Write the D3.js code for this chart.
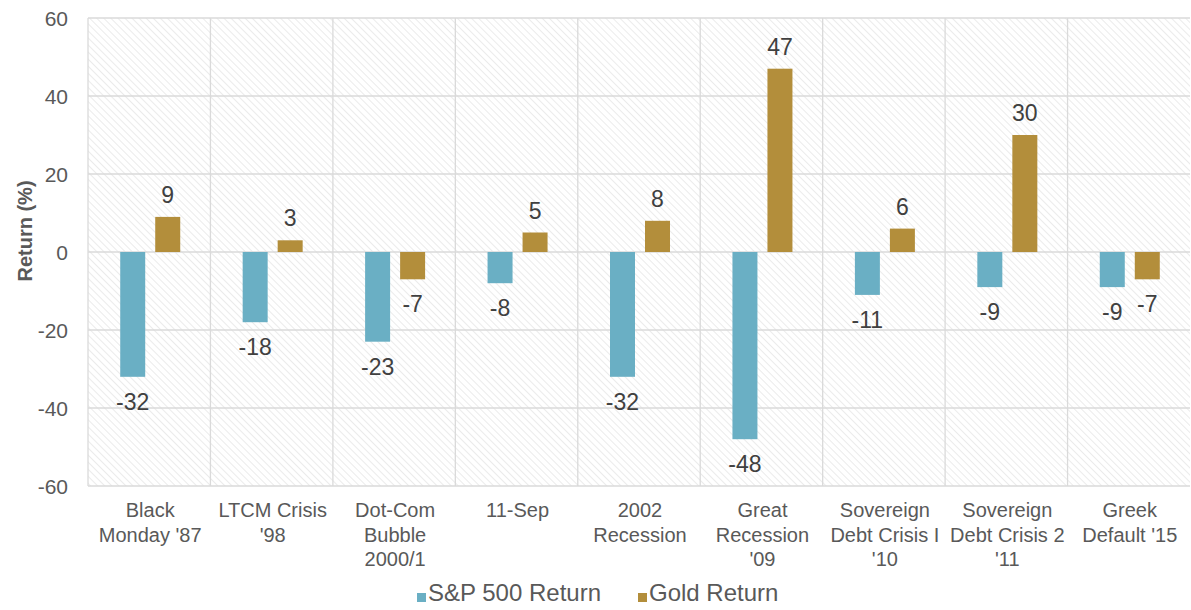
<!DOCTYPE html>
<html>
<head>
<meta charset="utf-8">
<script src="https://cdn.jsdelivr.net/npm/d3@7"></script>
<style>
  body { margin: 0; background: #fff; }
  text { font-family: "Liberation Sans", Arial, sans-serif; }
</style>
</head>
<body>
<svg width="1191" height="610"></svg>
<script>
// data
const categories = ["Black Monday '87", "LTCM Crisis '98", "Dot-Com Bubble 2000/1", "11-Sep",
  "2002 Recession", "Great Recession '09", "Sovereign Debt Crisis I '10",
  "Sovereign Debt Crisis 2 '11", "Greek Default '15"];
// how each tick label wraps
const tickLines = [["Black", "Monday '87"], ["LTCM Crisis", "'98"], ["Dot-Com", "Bubble", "2000/1"],
  ["11-Sep"], ["2002", "Recession"], ["Great", "Recession", "'09"],
  ["Sovereign", "Debt Crisis I", "'10"], ["Sovereign", "Debt Crisis 2", "'11"], ["Greek", "Default '15"]];
const spReturn = [-32, -18, -23, -8, -32, -48, -11, -9, -9];
const goldReturn = [9, 3, -7, 5, 8, 47, 6, 30, -7];
const yTicks = [-60, -40, -20, 0, 20, 40, 60];
const seriesNames = ["S&P 500 Return", "Gold Return"];
const colors = ["#6aafc4", "#b38e3b"];

const svg = d3.select('svg');
const pLeft = 88, pRight = 1190, pTop = 18, pBottom = 486;

const x = d3.scaleBand().domain(categories).range([pLeft, pRight]);
const y = d3.scaleLinear().domain([-60, 60]).range([pBottom, pTop]);
const inner = d3.scaleBand().domain(seriesNames).range([0, 60]).paddingInner(0.286);
const offset = (x.bandwidth() - 60) / 2 + 1;

// hatch pattern
const pat = svg.append('defs').append('pattern')
    .attr('id', 'hatch')
    .attr('patternUnits', 'userSpaceOnUse')
    .attr('width', 5).attr('height', 5)
    .attr('patternTransform', 'rotate(-45)');
pat.append('line')
    .attr('x1', 0).attr('y1', 0).attr('x2', 0).attr('y2', 5)
    .style('stroke', '#e4e4e4')
    .style('stroke-width', 1.5);

svg.append('rect')
    .attr('x', pLeft).attr('y', pTop)
    .attr('width', pRight - pLeft).attr('height', pBottom - pTop)
    .style('fill', 'url(#hatch)');

// grid lines
svg.selectAll('.hgrid').data(yTicks).enter().append('line')
    .attr('x1', pLeft).attr('x2', pRight)
    .attr('y1', d => y(d)).attr('y2', d => y(d))
    .style('stroke', '#dadada').style('stroke-width', 1.3);

svg.selectAll('.vgrid').data(categories).enter().append('line')
    .attr('x1', d => x(d)).attr('x2', d => x(d))
    .attr('y1', pTop).attr('y2', pBottom)
    .style('stroke', '#dadada').style('stroke-width', 1.3);

// y tick labels
svg.selectAll('.ytick').data(yTicks).enter().append('text')
    .attr('x', 68).attr('y', d => y(d) + 8)
    .attr('text-anchor', 'end')
    .style('font-size', '21px').style('fill', '#595959')
    .text(d => d);

svg.append('text')
    .attr('transform', 'translate(32,231) rotate(-90)')
    .attr('text-anchor', 'middle')
    .style('font-size', '20px').style('font-weight', 'bold').style('fill', '#595959')
    .text('Return (%)');

// bars + labels
const series = [spReturn, goldReturn];
series.forEach((vals, s) => {
    const bx = (d, i) => x(categories[i]) + offset + inner(seriesNames[s]);
    svg.selectAll('.bar' + s).data(vals).enter().append('rect')
        .attr('x', bx)
        .attr('y', d => y(Math.max(0, d)))
        .attr('width', inner.bandwidth())
        .attr('height', d => Math.abs(y(d) - y(0)))
        .style('fill', colors[s]);
    svg.selectAll('.lab' + s).data(vals).enter().append('text')
        .attr('x', (d, i) => bx(d, i) + inner.bandwidth() / 2)
        .attr('y', d => d >= 0 ? y(d) - 14 : y(d) + 33)
        .attr('text-anchor', 'middle')
        .style('font-size', '23px').style('fill', '#404040')
        .text(d => d);
});

// x labels
tickLines.forEach((lines, i) => {
    const t = svg.append('text')
        .attr('x', x(categories[i]) + x.bandwidth() / 2 + 1)
        .attr('y', 517)
        .attr('text-anchor', 'middle')
        .style('font-size', '20px').style('fill', '#595959');
    lines.forEach((l, j) => {
        t.append('tspan')
            .attr('x', x(categories[i]) + x.bandwidth() / 2 + 1)
            .attr('dy', j === 0 ? 0 : 24.5)
            .text(l);
    });
});

// legend
const legX = [417, 638];
seriesNames.forEach((n, i) => {
    svg.append('rect')
        .attr('x', legX[i]).attr('y', 593)
        .attr('width', 9).attr('height', 9)
        .style('fill', colors[i]);
    svg.append('text')
        .attr('x', legX[i] + 11).attr('y', 601)
        .style('font-size', '24px').style('fill', '#595959')
        .text(n);
});
</script>
</body>
</html>
